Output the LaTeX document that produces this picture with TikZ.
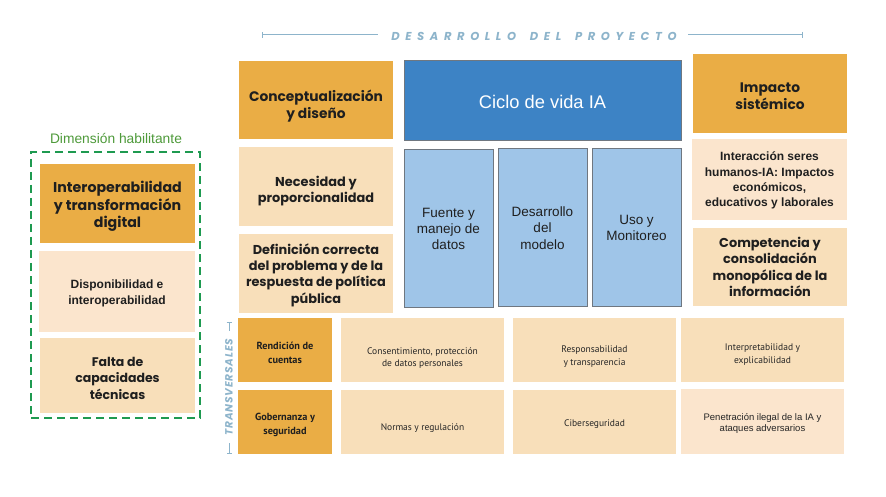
\documentclass[tikz,border=0pt]{standalone}
\usepackage{fontspec}
\setmainfont{Liberation Sans}
\newfontfamily\gotham{Poppins}
\newfontfamily\narrow{PT Sans}
\newfontfamily\arial{Liberation Sans}
\usetikzlibrary{arrows.meta}
\definecolor{orD}{HTML}{EAAD45}
\definecolor{peach}{HTML}{F8DFBA}
\definecolor{lpeach}{HTML}{FBE5CD}
\definecolor{blD}{HTML}{3D83C5}
\definecolor{blL}{HTML}{9FC5E8}
\definecolor{bord}{HTML}{6F7780}
\definecolor{grn}{HTML}{1E9A50}
\definecolor{grntxt}{HTML}{4E9A3A}
\definecolor{ttl}{HTML}{8DB4CB}
\definecolor{txt}{HTML}{1F1F1F}
\newdimen\lsp
\def\spreadit#1{\spreadaux#1\relax\kern-\lsp}
\def\spreadaux#1{\ifx#1\relax\else#1\kern\lsp\expandafter\spreadaux\fi}
\tikzset{
  box/.style={inner sep=0pt},
  tx/.style={inner sep=0pt, align=center, text=txt},
  sz/.style 2 args={minimum width=#1pt, minimum height=#2pt},
  dark/.style={box, fill=orD},
  peachbox/.style={box, fill=peach},
  lpeachbox/.style={box, fill=lpeach},
  bluebox/.style={box, fill=blD, draw=bord, line width=0.8pt},
  lbluebox/.style={box, fill=blL, draw=bord, line width=0.8pt},
  hdr/.style={tx, font=\gotham\bfseries\fontsize{13.8}{17}\selectfont},
  sub/.style={tx, font=\gotham\bfseries\fontsize{12.9}{16.3}\selectfont},
  ari/.style={tx, font=\arial\bfseries\fontsize{12}{15.3}\selectfont},
  arireg/.style={tx, font=\arial\fontsize{13.5}{16.3}\selectfont},
  gridb/.style={tx, font=\narrow\bfseries\fontsize{10.3}{14}\selectfont},
  gridr/.style={tx, font=\narrow\fontsize{9.5}{12.5}\selectfont, text=black!85},
  tline/.style={draw=ttl, line width=1pt},
  ttltext/.style={text=ttl, inner sep=0pt},
}
\begin{document}
\begin{tikzpicture}[x=1pt,y=-1pt]
\useasboundingbox (0,0) rectangle (886,497);
\fill[white] (0,0) rectangle (886,497);

% title
\coordinate (tl1) at (262,35); \coordinate (tl2) at (378,35);
\coordinate (tr1) at (688,35); \coordinate (tr2) at (803,35);
\node[ttltext, font=\gotham\bfseries\itshape\fontsize{11.5}{12}\selectfont] (ttl) at (534,36) {\lsp=5.6pt\spreadit{DESARROLLO~DEL~PROYECTO}};
\draw[tline, {Bar[width=6pt]}-] (tl1) -- (tl2);
\draw[tline, -{Bar[width=6pt]}] (tr1) -- (tr2);

% left dimension
\node[text=grntxt, inner sep=0pt, font=\arial\fontsize{13.8}{15}\selectfont] (dimt) at (116,138) {Dimensión habilitante};
\node[draw=grn, line width=1.8pt, dash pattern=on 8pt off 5pt, sz={169}{266}, inner sep=0pt] (dim) at (115.5,285) {};
\node[dark, sz={155}{79}] (interop) at (117.5,203.5) {};
\node[tx, font=\gotham\bfseries\fontsize{14.2}{17.5}\selectfont] (interop-t) at (117.5,206.5) {Interoperabilidad\\y transformación\\digital};
\node[lpeachbox, sz={156}{81}] (dispon) at (117,291.5) {};
\node[ari] (dispon-t) at (117,293.5) {Disponibilidad e\\interoperabilidad};
\node[peachbox, sz={155}{75}] (falta) at (117.5,375.5) {};
\node[tx, font=\gotham\bfseries\fontsize{12.5}{16.5}\selectfont] (falta-t) at (117.5,378) {Falta de\\capacidades\\técnicas};

% conceptualizacion column
\node[dark, sz={154}{78}] (concept) at (316,100) {};
\node[hdr] (concept-t) at (316,106) {Conceptualización\\y diseño};
\node[peachbox, sz={154}{79}] (neces) at (316,186.5) {};
\node[sub] (neces-t) at (316,191) {Necesidad y\\proporcionalidad};
\node[peachbox, sz={154}{79}] (defin) at (316,273.5) {};
\node[sub] (defin-t) at (316,275) {Definición correcta\\del problema y de la\\respuesta de política\\pública};

% ciclo de vida
\node[bluebox, sz={277}{80}] (ciclo) at (542.5,100) {};
\node[tx, text=white, font=\arial\fontsize{18.3}{20}\selectfont] (ciclo-t) at (542.5,102) {Ciclo de vida IA};
\node[lbluebox, sz={89}{158}] (fuente) at (448.5,228) {};
\node[arireg] (fuente-t) at (448.5,229) {Fuente y\\manejo de\\datos};
\node[lbluebox, sz={89}{158}] (desar) at (542.5,227) {};
\node[arireg] (desar-t) at (542.5,228) {Desarrollo\\del\\modelo};
\node[lbluebox, sz={89}{158}] (uso) at (636.5,227) {};
\node[arireg] (uso-t) at (636.5,228) {Uso y\\Monitoreo};

% impacto
\node[dark, sz={154}{79}] (impacto) at (770,93.5) {};
\node[hdr] (impacto-t) at (770,96.5) {Impacto\\sistémico};
\node[lpeachbox, sz={155}{81}] (interac) at (769.5,179.5) {};
\node[ari] (interac-t) at (769.5,180.5) {Interacción seres\\humanos-IA: Impactos\\económicos,\\educativos y laborales};
\node[peachbox, sz={154}{78}] (compet) at (770,267) {};
\node[sub] (compet-t) at (770,267) {Competencia y\\consolidación\\monopólica de la\\información};

% transversales
\node[ttltext, rotate=90, font=\gotham\bfseries\itshape\fontsize{10.5}{11}\selectfont] (trv) at (229,387) {\lsp=0.8pt\spreadit{TRANSVERSALES}};
\coordinate (tv1) at (229,322); \coordinate (tv2) at (229,331);
\coordinate (tv3) at (229,443); \coordinate (tv4) at (229,454);
\draw[tline, {Bar[width=5pt]}-] (tv1) -- (tv2);
\draw[tline, -{Bar[width=5pt]}] (tv3) -- (tv4);

% grid
\node[dark, sz={94}{64}] (rend) at (285,350) {};
\node[gridb] (rend-t) at (285,352.5) {Rendición de\\cuentas};
\node[dark, sz={94}{64}] (gober) at (285,422) {};
\node[gridb] (gober-t) at (285,425) {Gobernanza y\\seguridad};
\node[peachbox, sz={163}{64}] (consent) at (422.5,350) {};
\node[gridr] (consent-t) at (422.5,358) {Consentimiento, protección\\de datos personales};
\node[peachbox, sz={163}{64}] (respon) at (594.5,350) {};
\node[gridr] (respon-t) at (594.5,356.5) {Responsabilidad\\y transparencia};
\node[peachbox, sz={163}{64}] (interp) at (762.5,350) {};
\node[gridr] (interp-t) at (762.5,354.5) {Interpretabilidad y\\explicabilidad};
\node[peachbox, sz={163}{64}] (normas) at (422.5,422) {};
\node[gridr] (normas-t) at (422.5,428) {Normas y regulación};
\node[peachbox, sz={163}{64}] (ciber) at (594.5,422) {};
\node[gridr] (ciber-t) at (594.5,424) {Ciberseguridad};
\node[lpeachbox, sz={163}{65}] (penet) at (762.5,421.5) {};
\node[tx, font=\arial\fontsize{9.5}{11.5}\selectfont, text=black!85] (penet-t) at (762.5,423.5) {Penetración ilegal de la IA y\\ataques adversarios};
\end{tikzpicture}
\end{document}
